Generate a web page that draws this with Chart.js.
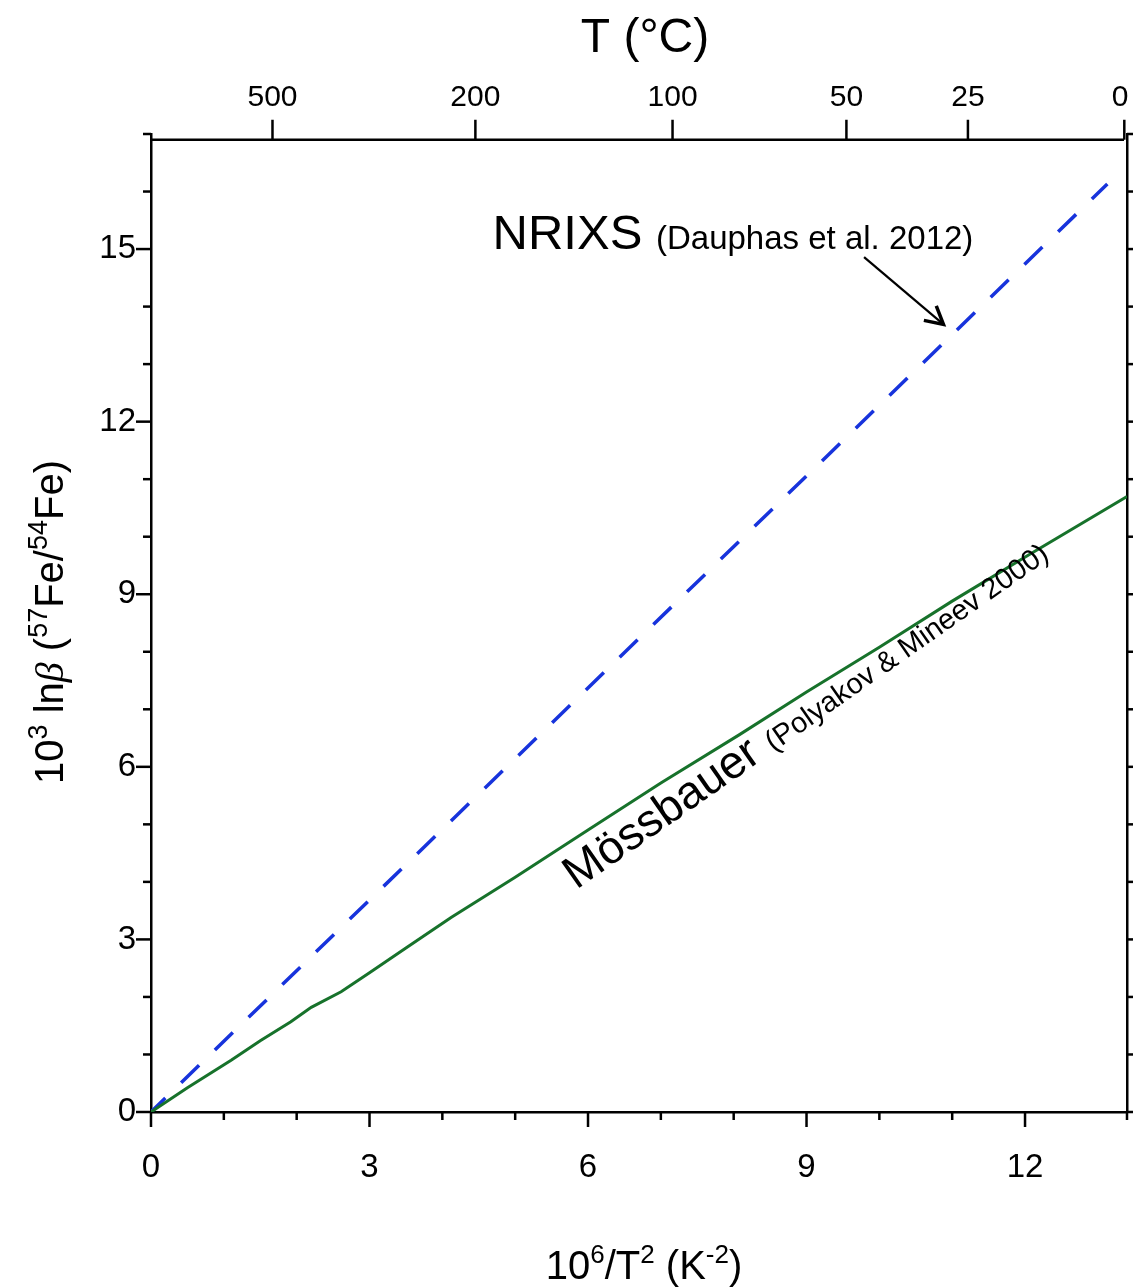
<!DOCTYPE html>
<html>
<head>
<meta charset="utf-8">
<script src="https://cdn.jsdelivr.net/npm/chart.js@4.4.1/dist/chart.umd.min.js"></script>
<style>
  html, body { margin: 0; padding: 0; background: #fff; overflow: hidden; }
  #wrap { width: 1133px; height: 1288px; position: relative; }
</style>
</head>
<body>
<div id="wrap"><canvas id="fig"></canvas></div>
<script>
// Mössbauer curve (Polyakov & Mineev 2000)
var mossX = [0, 0.5, 1.1, 1.5, 1.92, 2.2, 2.61, 3.0, 3.5, 4.12, 5.0, 6.0, 7.0, 8.08, 9.0, 10.0, 11.0, 12.06, 13.4];
var mossY = [0, 0.42, 0.9, 1.24, 1.57, 1.82, 2.09, 2.42, 2.85, 3.38, 4.08, 4.9, 5.72, 6.56, 7.3, 8.08, 8.88, 9.69, 10.7];
// NRIXS line (Dauphas et al. 2012)
var nrixsX = [0, 13.13];
var nrixsY = [0, 16.13];
// top axis: temperatures in °C
var topTemps = [500, 200, 100, 50, 25, 0];

var FONT = '"Liberation Sans", Arial, sans-serif';

function toPoints(xs, ys) {
    var pts = [];
    for (var i = 0; i < xs.length; i++) {
        pts.push({ x: xs[i], y: ys[i] });
    }
    return pts;
}

function tempToX(t) {
    var k = t + 273.15;
    return 1e6 / (k * k);
}

// draw a row of text pieces, some raised as superscripts
function drawPieces(ctx, pieces, x, y, align) {
    var total = 0;
    pieces.forEach(function(p) {
        ctx.font = p.font;
        p.w = ctx.measureText(p.t).width;
        total += p.w;
    });
    var cx = align === 'center' ? x - total / 2 : x;
    ctx.textAlign = 'left';
    ctx.textBaseline = 'alphabetic';
    pieces.forEach(function(p) {
        ctx.font = p.font;
        ctx.fillText(p.t, cx, y - (p.rise || 0));
        cx += p.w;
    });
    return total;
}

// no extra room for labels that hang over the frame ends
function noPad(scale) {
    scale.paddingLeft = 0;
    scale.paddingRight = 0;
    scale.paddingTop = 0;
    scale.paddingBottom = 0;
}

var overlay = {
    id: 'overlay',
    afterDraw: function(chart) {
        var ctx = chart.ctx;
        var ca = chart.chartArea;
        var x = chart.scales.x, y = chart.scales.y, x2 = chart.scales.x2, y2 = chart.scales.y2;
        ctx.save();
        ctx.strokeStyle = '#000';
        ctx.fillStyle = '#000';
        ctx.lineWidth = 2.5;

        // bottom ticks
        x.ticks.forEach(function(t) {
            var px = x.getPixelForValue(t.value);
            var major = Math.abs(t.value % 3) < 1e-6;
            ctx.beginPath();
            ctx.moveTo(px, ca.bottom);
            ctx.lineTo(px, ca.bottom + (major ? 15 : 8));
            ctx.stroke();
        });
        // left ticks
        y.ticks.forEach(function(t) {
            var py = y.getPixelForValue(t.value);
            var major = Math.abs(t.value % 3) < 1e-6;
            ctx.beginPath();
            ctx.moveTo(ca.left - (major ? 15 : 8), py);
            ctx.lineTo(ca.left, py);
            ctx.stroke();
        });
        // right ticks
        y2.ticks.forEach(function(t) {
            var py = y2.getPixelForValue(t.value);
            ctx.beginPath();
            ctx.moveTo(ca.right, py);
            ctx.lineTo(ca.right + 8, py);
            ctx.stroke();
        });
        // top axis line sits a little below the frame top
        var topY = y.getPixelForValue(16.9);
        ctx.beginPath();
        ctx.moveTo(ca.left, topY);
        ctx.lineTo(ca.right - 3, topY);
        ctx.stroke();
        x2.ticks.forEach(function(t) {
            var px = x2.getPixelForValue(t.value);
            ctx.beginPath();
            ctx.moveTo(px, topY);
            ctx.lineTo(px, topY - 20);
            ctx.stroke();
        });

        // axis titles
        ctx.font = '48px ' + FONT;
        ctx.textAlign = 'center';
        ctx.textBaseline = 'alphabetic';
        ctx.fillText('T (°C)', 645, 52);

        var main = '40px ' + FONT, sup = '26px ' + FONT;
        drawPieces(ctx, [
            { t: '10', font: main },
            { t: '6', font: sup, rise: 16 },
            { t: '/T', font: main },
            { t: '2', font: sup, rise: 16 },
            { t: ' (K', font: main },
            { t: '-2', font: sup, rise: 16 },
            { t: ')', font: main }
        ], 644, 1279, 'center');

        ctx.save();
        ctx.translate(63, 622);
        ctx.rotate(-Math.PI / 2);
        drawPieces(ctx, [
            { t: '10', font: main },
            { t: '3', font: '27px ' + FONT, rise: 16 },
            { t: ' ln', font: main },
            { t: 'β', font: 'italic 40px "Liberation Serif", serif' },
            { t: ' (', font: main },
            { t: '57', font: '27px ' + FONT, rise: 16 },
            { t: 'Fe/', font: main },
            { t: '54', font: '27px ' + FONT, rise: 16 },
            { t: 'Fe)', font: main }
        ], 0, 0, 'center');
        ctx.restore();

        // NRIXS label and arrow
        drawPieces(ctx, [
            { t: 'NRIXS ', font: '49px ' + FONT },
            { t: '(Dauphas et al. 2012)', font: '33px ' + FONT }
        ], x.getPixelForValue(4.69), y.getPixelForValue(15.0), 'left');

        var ax0 = x.getPixelForValue(9.79), ay0 = y.getPixelForValue(14.86);
        var ax1 = x.getPixelForValue(10.88), ay1 = y.getPixelForValue(13.69);
        var ang = Math.atan2(ay1 - ay0, ax1 - ax0);
        ctx.lineWidth = 2.2;
        ctx.beginPath();
        ctx.moveTo(ax0, ay0);
        ctx.lineTo(ax1, ay1);
        ctx.stroke();
        ctx.lineWidth = 3.5;
        ctx.lineJoin = 'miter';
        ctx.beginPath();
        ctx.moveTo(ax1 - 20 * Math.cos(ang - 0.5), ay1 - 20 * Math.sin(ang - 0.5));
        ctx.lineTo(ax1, ay1);
        ctx.lineTo(ax1 - 20 * Math.cos(ang + 0.5), ay1 - 20 * Math.sin(ang + 0.5));
        ctx.stroke();

        // Mössbauer label, rotated along the line
        ctx.save();
        ctx.translate(x.getPixelForValue(5.84), y.getPixelForValue(3.86));
        ctx.rotate(-35 * Math.PI / 180);
        drawPieces(ctx, [
            { t: 'Mössbauer ', font: '46px ' + FONT },
            { t: '(Polyakov & Mineev 2000)', font: '29px ' + FONT }
        ], 0, 0, 'left');
        ctx.restore();

        ctx.restore();
    }
};

var tickFont = { family: FONT, size: 33 };

var canvas = document.getElementById('fig');
new Chart(canvas.getContext('2d'), {
    type: 'scatter',
    data: {
        datasets: [{
            label: 'Mössbauer',
            data: toPoints(mossX, mossY),
            showLine: true,
            borderColor: '#17722b',
            borderWidth: 3,
            pointRadius: 0,
            tension: 0
        }, {
            label: 'NRIXS',
            data: toPoints(nrixsX, nrixsY),
            showLine: true,
            borderColor: '#1733dc',
            borderWidth: 3.5,
            borderDash: [25, 22],
            borderDashOffset: 5,
            pointRadius: 0
        }]
    },
    options: {
        responsive: true,
        maintainAspectRatio: false,
        animation: false,
        layout: { padding: 0 },
        plugins: {
            legend: { display: false },
            tooltip: { enabled: false }
        },
        scales: {
            x: {
                type: 'linear',
                position: 'bottom',
                min: 0,
                max: 13.4,
                afterFit: function(scale) { scale.height = 176; noPad(scale); },
                grid: { drawOnChartArea: false, drawTicks: false },
                border: { color: '#000', width: 2.5 },
                ticks: {
                    stepSize: 1,
                    padding: 36,
                    color: '#000',
                    font: tickFont,
                    maxRotation: 0,
                    autoSkip: false,
                    callback: function(v) { return v % 3 === 0 ? String(v) : ''; }
                }
            },
            x2: {
                type: 'linear',
                position: 'top',
                min: 0,
                max: 13.44,
                afterFit: function(scale) { scale.height = 134; noPad(scale); },
                afterBuildTicks: function(scale) {
                    scale.ticks = topTemps.map(function(t) { return { value: tempToX(t) }; });
                },
                grid: { drawOnChartArea: false, drawTicks: false },
                border: { display: false },
                ticks: {
                    padding: 18,
                    color: '#000',
                    font: { family: FONT, size: 30 },
                    maxRotation: 0,
                    autoSkip: false,
                    // last label nudged left so it stays inside the page
                    callback: function(v, i) {
                        return i === topTemps.length - 1 ? String(topTemps[i]) + ' ' : String(topTemps[i]);
                    }
                }
            },
            y: {
                type: 'linear',
                position: 'left',
                min: 0,
                max: 17,
                afterFit: function(scale) { scale.width = 151; noPad(scale); },
                grid: { drawOnChartArea: false, drawTicks: false },
                border: { color: '#000', width: 2.5 },
                ticks: {
                    stepSize: 1,
                    padding: 15,
                    color: '#000',
                    font: tickFont,
                    autoSkip: false,
                    callback: function(v) { return v % 3 === 0 ? String(v) : ''; }
                }
            },
            y2: {
                type: 'linear',
                position: 'right',
                min: 0,
                max: 17,
                afterFit: function(scale) { scale.width = 6; noPad(scale); },
                grid: { drawOnChartArea: false, drawTicks: false },
                border: { color: '#000', width: 2.5 },
                ticks: { stepSize: 1, display: false }
            }
        }
    },
    plugins: [overlay]
});
</script>
</body>
</html>
